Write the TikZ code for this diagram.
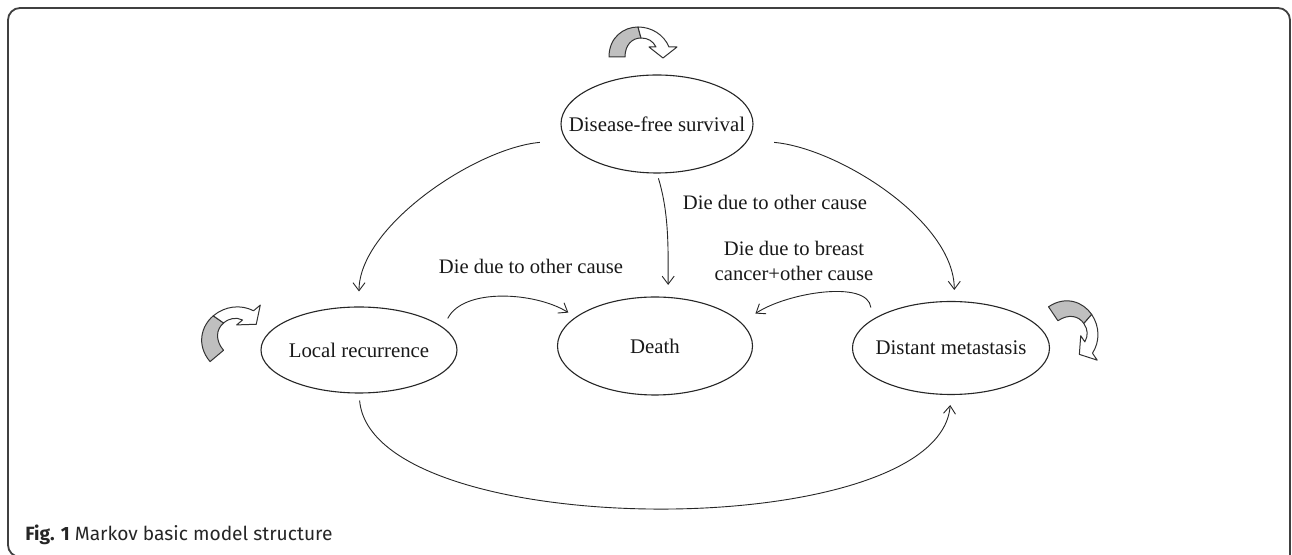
\documentclass[tikz,border=0pt]{standalone}
\usepackage{fontspec}
\setmainfont{Liberation Serif}
\newfontfamily\capfont{Fira Sans}
\usetikzlibrary{shapes.geometric,arrows.meta,calc}
\newcommand{\zbox}[1]{\makebox[0pt]{#1}}
\begin{document}
\begin{tikzpicture}[x=0.5pt,y=-0.5pt,
  state/.style={ellipse,draw=black!85,line width=0.55pt,inner sep=0pt,text=black!90,font=\fontsize{10.4}{12}\selectfont},
  lbl/.style={font=\fontsize{10.3}{12.5}\selectfont,align=center,inner sep=0pt,text=black!90},
  conn/.style={draw=black!85,line width=0.45pt,-{Straight Barb[length=4pt,width=6pt]}},
  loopgray/.style={fill=black!25,draw=black!80,line width=0.5pt,line join=round},
  loopwhite/.style={fill=white,draw=black!80,line width=0.5pt,line join=round},
  looparrow/.pic={
    \path[loopgray] (-29,12) .. controls (-29,-8) and (-14,-18) .. (0,-18) -- (3,-7) .. controls (-6,-7) and (-13,0) .. (-13,12) -- cycle;
    \path[loopwhite] (0,-18) .. controls (14,-18) and (26,-10) .. (31,2) -- (39,2) -- (25,13) -- (11,2) -- (18,2) .. controls (15,-4) and (10,-7) .. (3,-7) -- cycle;
  }]
\useasboundingbox (0,0) rectangle (1292,555);
\clip (0,0) rectangle (1292,555);
\fill[white] (0,0) rectangle (1292,555);
% frame
\draw[line width=0.9pt,black!75,rounded corners=6pt] (60,557) -- (8,557) -- (8,8) -- (1290,8) -- (1290,557);

% states
\node[state,minimum width=96pt,minimum height=49pt] (dfs) at (657,124) {\zbox{Disease-free survival}};
\node[state,minimum width=98pt,minimum height=43pt] (lr) at (359,350) {\zbox{Local recurrence}};
\node[state,minimum width=97.5pt,minimum height=49pt] (death) at (655,346) {\zbox{Death}};
\node[state,minimum width=98.5pt,minimum height=46.5pt] (dm) at (951,348) {\zbox{Distant metastasis}};

% loop arrows
\pic at (638,45) {looparrow};
\pic[rotate=40,scale=1.1] at (226,331) {looparrow};
\pic[rotate=-56,scale=1.05] at (1076,325) {looparrow};

% connectors
\draw[conn,shorten <=13pt,shorten >=7.5pt] (dfs.190) .. controls +(-90,8) and +(0,-80) .. (lr.north);
\draw[conn,shorten <=13pt,shorten >=5.5pt] (dfs.-10) .. controls +(90,8) and +(0,-80) .. (dm.86);
\draw[conn,shorten <=2.5pt,shorten >=6pt] (dfs.south) .. controls +(12,40) and +(0,-50) .. (death.75);
\draw[conn,shorten <=5pt,shorten >=4.2pt] (lr.15) .. controls +(20,-40) and +(-40,-25) .. (death.160);
\draw[conn,shorten <=6pt,shorten >=8.3pt] (dm.160) .. controls +(-5,-40) and +(45,-30) .. (death.15);
\draw[conn,shorten <=3.5pt,shorten >=5pt] (lr.south) .. controls +(13,150) and +(-12,150) .. (dm.south);

% labels
\node[lbl] (l1) at (775,202) {Die due to other cause};
\node[lbl] (l2) at (794,261) {Die due to breast\\cancer+other cause};
\node[lbl] (l3) at (531,266) {Die due to other cause};

% caption
\node[anchor=base west,inner sep=0pt,text=black!85,font=\capfont\fontsize{9.6}{11}\selectfont] (cap) at (25,541) {\textbf{Fig. 1} Markov basic model structure};
\end{tikzpicture}
\end{document}
